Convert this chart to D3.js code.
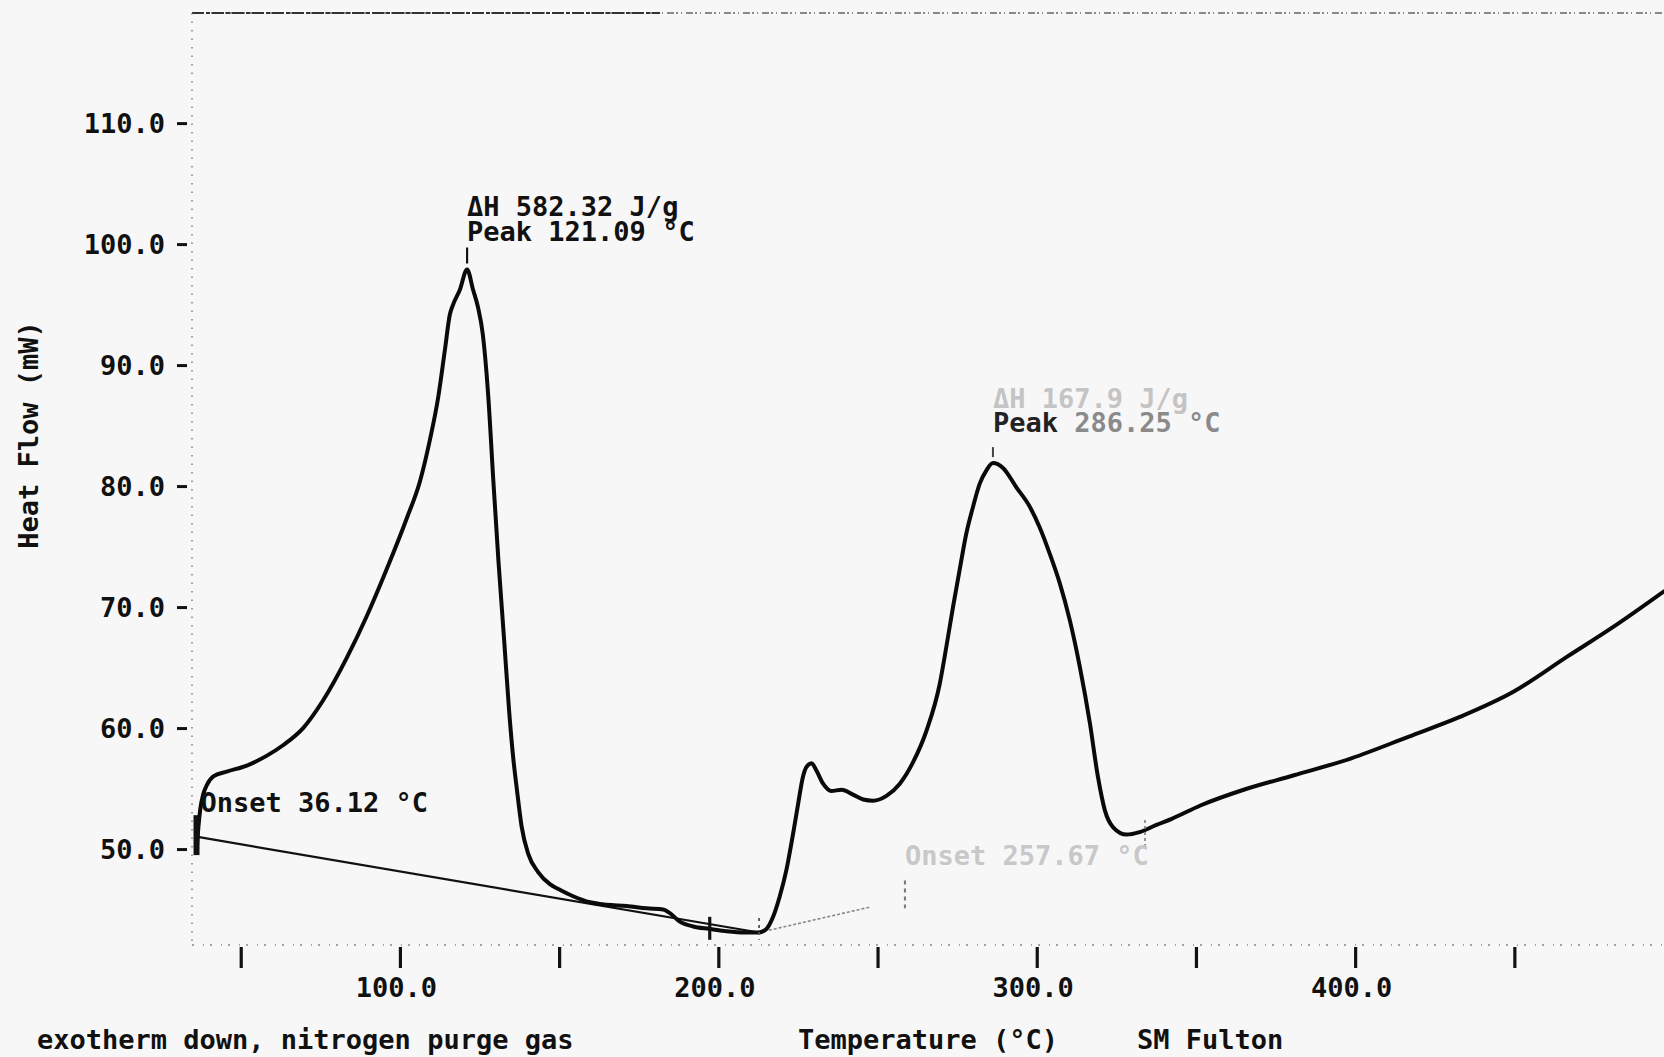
<!DOCTYPE html>
<html>
<head>
<meta charset="utf-8">
<script src="https://cdn.jsdelivr.net/npm/d3@7/dist/d3.min.js"></script>
<style>
  html, body { margin: 0; padding: 0; background: #f7f7f7; }
  svg { display: block; }
  text { font-family: "DejaVu Sans Mono", "Liberation Mono", monospace; font-weight: bold; fill: #111; }
</style>
</head>
<body>
<svg id="chart" width="1664" height="1057"></svg>
<script>
// DSC trace: temperature (°C) vs heat flow (mW)
const tempC = [36.2, 36.7, 37.3, 38.2, 39.4, 41.4, 45.6, 51.9, 58.1, 63.4, 69.6, 75.9, 83.3, 89.5,
  95.8, 102.1, 106.3, 109.4, 112.0, 114.1, 115.7, 116.7, 118.8, 121.09, 123.0, 124.5, 126.0, 127.7,
  129.3, 131.0, 132.7, 134.3, 135.6, 136.7, 138.2, 140.3, 143.4, 147.1, 150.5, 154.4, 159.7, 164.9,
  171.2, 177.5, 182.7, 184.8, 187.9, 192.1, 197.3, 202.6, 208.8, 212.5, 215.1, 217.2, 219.3, 221.4,
  223.5, 225.1, 226.6, 227.7, 229.3, 230.8, 232.9, 235.5, 238.7, 242.3, 245.5, 248.6, 252.8, 257.0,
  261.2, 265.4, 269.5, 271.6, 273.7, 275.8, 277.9, 280.0, 282.1, 284.2, 286.25, 289.4, 293.6, 297.8,
  300.9, 304.1, 307.2, 310.4, 313.5, 316.7, 319.2, 321.4, 324.0, 328.2, 332.3, 337.6, 342.4, 351.4,
  365.0, 380.8, 398.8, 416.9, 432.7, 449.7, 466.6, 481.3, 497.0];
const heatFlow = [50.0, 51.8, 53.3, 54.5, 55.3, 56.0, 56.4, 56.9, 57.7, 58.6, 60.0, 62.3, 65.8, 69.2,
  73.1, 77.3, 80.4, 83.8, 87.3, 91.2, 94.2, 95.0, 96.2, 97.9, 96.2, 94.8, 92.6, 87.6,
  80.6, 73.6, 67.4, 61.4, 57.5, 55.0, 51.9, 49.6, 48.1, 47.1, 46.6, 46.1, 45.6, 45.4,
  45.3, 45.1, 45.0, 44.7, 44.0, 43.6, 43.4, 43.2, 43.1, 43.1, 43.4, 44.4, 46.1, 48.3,
  51.3, 53.8, 56.0, 56.8, 57.1, 56.5, 55.4, 54.8, 54.9, 54.5, 54.1, 54.0, 54.4, 55.4,
  57.2, 59.8, 63.6, 66.7, 70.0, 73.1, 76.1, 78.3, 80.2, 81.3, 81.9, 81.5, 79.9, 78.3,
  76.6, 74.4, 72.0, 68.9, 65.1, 60.4, 56.0, 53.2, 51.8, 51.2, 51.4, 52.0, 52.5, 53.6,
  54.9, 56.1, 57.5, 59.3, 60.9, 63.0, 65.9, 68.4, 71.3];

// Integration baselines
const baseline1T = [36.5, 212.8];
const baseline1H = [51.0, 43.1];
const baseline2T = [212.8, 247.6];
const baseline2H = [43.1, 45.2];

// Axis ticks
const xTickValues = [50, 100, 150, 200, 250, 300, 350, 400, 450];
const xTickLabels = ["", "100.0", "", "200.0", "", "300.0", "", "400.0", ""];
const yTickValues = [50, 60, 70, 80, 90, 100, 110];
const yTickLabels = ["50.0", "60.0", "70.0", "80.0", "90.0", "100.0", "110.0"];

// Annotations
const peak1 = { t: 121.09, h: 97.9, lines: ["ΔH 582.32 J/g", "Peak 121.09 °C"] };
const peak2 = { t: 286.25, h: 81.9, lines: ["ΔH 167.9 J/g", "Peak 286.25 °C"] };
const onset1 = { t: 36.12, h: 50.0, text: "Onset 36.12 °C" };
const onset2 = { t: 258.6, h: 45.4, text: "Onset 257.67 °C" };
const footerLeft = "exotherm down, nitrogen purge gas";
const xTitle = "Temperature (°C)";
const operator = "SM Fulton";
const yTitle = "Heat Flow (mW)";

const svg = d3.select("#chart");
const W = 1664, H = 1057;
const plotL = 192, plotR = 1664, plotT = 13, plotB = 945;

svg.append("rect").attr("width", W).attr("height", H).attr("fill", "#f7f7f7");

const x = d3.scaleLinear().domain([34.7, 497.0]).range([plotL, plotR]);
const y = d3.scaleLinear().domain([42.07, 119.1]).range([plotB, plotT]);

// Frame: dashed top edge (darker on the left), dotted left and bottom edges
svg.append("line").attr("x1", plotL).attr("x2", plotR).attr("y1", plotT).attr("y2", plotT)
  .attr("stroke", "#666").attr("stroke-width", 1.5).attr("stroke-dasharray", "7,2,2,3,1,4");
svg.append("line").attr("x1", plotL).attr("x2", 660).attr("y1", plotT).attr("y2", plotT)
  .attr("stroke", "#333").attr("stroke-width", 1.8).attr("stroke-dasharray", "12,2,4,2");
svg.append("line").attr("x1", plotL).attr("x2", plotL).attr("y1", plotT).attr("y2", plotB)
  .attr("stroke", "#777").attr("stroke-width", 1.4).attr("stroke-dasharray", "1.5,7");
svg.append("line").attr("x1", plotL).attr("x2", plotR).attr("y1", plotB).attr("y2", plotB)
  .attr("stroke", "#888").attr("stroke-width", 1.4).attr("stroke-dasharray", "2,9,1,6");

// X axis: bold vertical ticks below the frame
const xAxis = d3.axisBottom(x).tickValues(xTickValues).tickSize(0)
  .tickFormat((d, i) => xTickLabels[i]);
const gx = svg.append("g").attr("transform", `translate(0,${plotB})`).call(xAxis);
gx.select(".domain").remove();
gx.selectAll(".tick").append("line")
  .attr("x1", 0).attr("x2", 0).attr("y1", 2).attr("y2", 23)
  .attr("stroke", "#111").attr("stroke-width", 3.2);
gx.selectAll(".tick text")
  .attr("x", -4).attr("y", 52).attr("dy", null)
  .attr("font-size", 27).attr("font-family", null).attr("fill", "#111");

// Y axis: short dashes left of the frame
const yAxis = d3.axisLeft(y).tickValues(yTickValues).tickSize(0)
  .tickFormat((d, i) => yTickLabels[i]);
const gy = svg.append("g").attr("transform", `translate(${plotL},0)`).call(yAxis);
gy.select(".domain").remove();
gy.selectAll(".tick").append("line")
  .attr("x1", -15).attr("x2", -5).attr("y1", 0).attr("y2", 0)
  .attr("stroke", "#111").attr("stroke-width", 3);
gy.selectAll(".tick text")
  .attr("x", -27).attr("dy", "0.36em")
  .attr("font-size", 27).attr("font-family", null).attr("fill", "#111");

// Axis titles and footer
svg.append("text").attr("transform", `translate(38,435) rotate(-90)`)
  .attr("text-anchor", "middle").attr("font-size", 27).text(yTitle);
svg.append("text").attr("x", 37).attr("y", 1049).attr("font-size", 27).text(footerLeft);
svg.append("text").attr("x", 798).attr("y", 1049).attr("font-size", 27).text(xTitle);
svg.append("text").attr("x", 1137).attr("y", 1049).attr("font-size", 27).text(operator);

// Baselines
const seg = d3.line().x(d => x(d[0])).y(d => y(d[1]));
svg.append("path").datum(baseline1T.map((t, i) => [t, baseline1H[i]]))
  .attr("d", seg).attr("fill", "none").attr("stroke", "#111").attr("stroke-width", 2.2);
svg.append("path").datum(baseline2T.map((t, i) => [t, baseline2H[i]]))
  .attr("d", seg).attr("fill", "none").attr("stroke", "#888").attr("stroke-width", 1.6)
  .attr("stroke-dasharray", "3,2");

// Main trace
const trace = tempC.map((t, i) => [t, heatFlow[i]]);
svg.append("path").datum(trace)
  .attr("d", d3.line().x(d => x(d[0])).y(d => y(d[1])).curve(d3.curveMonotoneX))
  .attr("fill", "none").attr("stroke", "#0a0a0a").attr("stroke-width", 4)
  .attr("stroke-linejoin", "round").attr("stroke-linecap", "round");

// Event markers
function vmark(t, y1, y2, w, color, dash) {
  svg.append("line").attr("x1", x(t)).attr("x2", x(t)).attr("y1", y1).attr("y2", y2)
    .attr("stroke", color).attr("stroke-width", w).attr("stroke-dasharray", dash || null);
}
vmark(onset1.t, y(52.8), y(49.5), 6, "#111");
vmark(peak1.t, y(peak1.h) - 22, y(peak1.h) - 6, 2.2, "#111");
vmark(197.3, y(44.4), y(42.5), 3.2, "#111");
vmark(baseline1T[1], y(44.3), y(42.5), 1.8, "#555", "3,4");
vmark(onset2.t, y(47.4), y(45.1), 2, "#777", "4,4");
vmark(peak2.t, y(peak2.h) - 16, y(peak2.h) - 6, 2, "#444");
vmark(334.0, y(52.4), y(50.1), 1.5, "#777", "3,3");

// Annotation text
const p1 = svg.append("g");
p1.append("text").attr("x", x(peak1.t)).attr("y", y(peak1.h) - 54).attr("font-size", 27).text(peak1.lines[0]);
p1.append("text").attr("x", x(peak1.t)).attr("y", y(peak1.h) - 29).attr("font-size", 27).text(peak1.lines[1]);

const p2 = svg.append("g");
p2.append("text").attr("x", x(peak2.t)).attr("y", y(peak2.h) - 55).attr("font-size", 27)
  .style("fill", "#c4c4c4").text(peak2.lines[0]);
const p2b = p2.append("text").attr("x", x(peak2.t)).attr("y", y(peak2.h) - 31).attr("font-size", 27);
p2b.append("tspan").style("fill", "#222").text("Peak ");
p2b.append("tspan").style("fill", "#8a8a8a").text(peak2.lines[1].slice(5));

svg.append("text").attr("x", x(onset1.t) + 4).attr("y", 812).attr("font-size", 27).text(onset1.text);
svg.append("text").attr("x", 905).attr("y", 865).attr("font-size", 27)
  .style("fill", "#c8c8c8").text(onset2.text);
</script>
</body>
</html>
